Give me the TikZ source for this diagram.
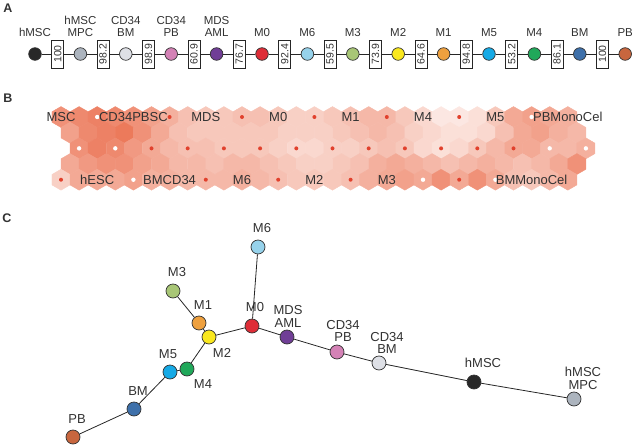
\documentclass[tikz,border=0pt]{standalone}
\usepackage{fontspec}
\setmainfont{Liberation Sans}
\usetikzlibrary{positioning}

\definecolor{chmsc}{RGB}{40,40,40}
\definecolor{cmpc}{RGB}{172,180,190}
\definecolor{ccdbm}{RGB}{222,224,230}
\definecolor{ccdpb}{RGB}{212,130,182}
\definecolor{cmds}{RGB}{112,62,150}
\definecolor{cmzero}{RGB}{222,45,55}
\definecolor{cmsix}{RGB}{150,210,235}
\definecolor{cmthree}{RGB}{168,198,118}
\definecolor{cmtwo}{RGB}{250,232,30}
\definecolor{cmone}{RGB}{238,160,62}
\definecolor{cmfive}{RGB}{22,170,230}
\definecolor{cmfour}{RGB}{32,168,90}
\definecolor{cbm}{RGB}{62,112,170}
\definecolor{cpb}{RGB}{200,102,62}
\definecolor{hexred}{RGB}{233,98,62}
\definecolor{dotred}{RGB}{225,65,45}
\definecolor{txt}{RGB}{50,50,50}

\tikzset{
  panel/.style={font=\fontsize{12.5}{13}\selectfont\bfseries, text=txt, inner sep=0pt},
  sample/.style={circle, draw=black!80, line width=.7pt, minimum size=12.6pt, inner sep=0pt},
  csample/.style={circle, draw=black!80, line width=.7pt, minimum size=14pt, inner sep=0pt},
  simbox/.style={draw=black!85, fill=white, line width=.7pt, rotate=90, minimum width=28pt, minimum height=12pt, inner sep=0pt, font=\fontsize{10.5}{11}\selectfont, text=txt},
  alabel/.style={align=center, inner sep=0pt, font=\fontsize{11.5}{12}\selectfont, text=txt},
  blabel/.style={inner sep=0pt, font=\fontsize{13}{13}\selectfont, text=txt},
  clabel/.style={align=center, inner sep=0pt, font=\fontsize{13}{12.5}\selectfont, text=txt},
  link/.style={draw=black!85, line width=.8pt}
}

\begin{document}
\begin{tikzpicture}[x=1pt,y=-1pt]
\useasboundingbox (0,0) rectangle (633,445);

%panel letters
\node[panel] (lab-a) at (8,8.5) {A};
\node[panel] (lab-b) at (8,98) {B};
\node[panel] (lab-c) at (7,218) {C};

%A: ordered chain of samples
\foreach \i/\col/\lab in {0/chmsc/hMSC, 1/cmpc/{hMSC\\MPC}, 2/ccdbm/{CD34\\BM}, 3/ccdpb/{CD34\\PB}, 4/cmds/{MDS\\AML}, 5/cmzero/M0, 6/cmsix/M6, 7/cmthree/M3, 8/cmtwo/M2, 9/cmone/M1, 10/cmfive/M5, 11/cmfour/M4, 12/cbm/BM, 13/cpb/PB}{
  \node[sample, fill=\col] (a-c\i) at ({35+45.4*\i},54) {};
  \node[alabel, above=11pt of a-c\i] (a-l\i) {\lab};
}
%similarity boxes
\foreach \i/\v in {0/100, 1/98.2, 2/98.9, 3/60.9, 4/76.7, 5/92.4, 6/59.5, 7/73.9, 8/64.6, 9/94.8, 10/53.2, 11/86.1, 12/100}
  \node[simbox] (a-b\i) at ({57.7+45.4*\i},54) {\v};
\foreach \i [evaluate=\i as \j using int(\i+1)] in {0,...,12}
  \draw[link] (a-c\i) -- (a-b\i) -- (a-c\j);

%B: self-organising map
\foreach \y/\xo/\ks/\vals in {
  117/61/0/{70,75,80,75,70,60,50,40,35,35,40,40,35,30,30,35,40,45,45,35,25,15,15,20,35,55,60,55,50},
  132.68/70.05/0/{60,75,80,85,70,55,40,35,35,35,35,35,30,30,30,35,40,45,40,30,25,20,20,25,40,55,60,50,45},
  148.36/61/1/{70,80,75,65,55,45,40,40,35,35,35,30,25,25,30,30,35,40,35,25,20,25,35,45,55,55,45,45,50},
  164.04/70.05/0/{55,65,70,70,60,55,45,45,40,45,45,40,35,30,30,35,40,50,55,50,45,40,45,50,45,40,45,55,70},
  179.72/61/0/{30,55,55,55,60,50,50,45,45,45,50,45,40,35,35,35,40,50,55,60,55,70,55,70,55,40,35,45,55}}
  \foreach \p [count=\k from 0] in \vals {
    \pgfmathsetmacro\hx{\xo+18.1*(\k+\ks)}
    \filldraw[fill=hexred!\p!white, draw=hexred!\p!white, line width=.4pt] (\hx,\y) +(90:10.45pt) -- +(150:10.45pt) -- +(210:10.45pt) -- +(270:10.45pt) -- +(330:10.45pt) -- +(30:10.45pt) -- cycle;
  }

%map units holding samples
\foreach \k in {6,10,14,18,22} \fill[dotred] ({61+18.1*\k},117) circle (2pt);
\foreach \k in {2,26} \fill[white] ({61+18.1*\k},117) circle (2.2pt);
\foreach \k in {5,7,9,...,25} \fill[dotred] ({61+18.1*\k},148.36) circle (2pt);
\foreach \k in {1,3,27,29} \fill[white] ({61+18.1*\k},148.36) circle (2.2pt);
\foreach \k in {0,8,12,16,22} \fill[dotred] ({61+18.1*\k},179.72) circle (2pt);
\foreach \k in {4,20,24} \fill[white] ({61+18.1*\k},179.72) circle (2.2pt);

\foreach \nm/\k/\lab in {msc/0/MSC, cdpbsc/4/CD34PBSC, mds/8/MDS, mzero/12/M0, mone/16/M1, mfour/20/M4, mfive/24/M5, pbmono/28/PBMonoCel}
  \node[blabel] (b-\nm) at ({61+18.1*\k},117) {\lab};
\foreach \nm/\k/\lab in {hesc/2/hESC, bmcd/6/BMCD34, msix/10/M6, mtwo/14/M2, mthree/18/M3, bmmono/26/BMMonoCel}
  \node[blabel] (b-\nm) at ({61+18.1*\k},179.72) {\lab};

%C: tree
\node[csample, fill=cmsix] (c-msix) at (258,247) {};
\node[csample, fill=cmthree] (c-mthree) at (173,291) {};
\node[csample, fill=cmone] (c-mone) at (199,323) {};
\node[csample, fill=cmzero] (c-mzero) at (252,326) {};
\node[csample, fill=cmtwo] (c-mtwo) at (209,337) {};
\node[csample, fill=cmds] (c-mds) at (287,337) {};
\node[csample, fill=cmfive] (c-mfive) at (170,372) {};
\node[csample, fill=cmfour] (c-mfour) at (187,369) {};
\node[csample, fill=cbm] (c-bm) at (134,409) {};
\node[csample, fill=cpb] (c-pb) at (73,437) {};
\node[csample, fill=ccdpb] (c-cdpb) at (337,352) {};
\node[csample, fill=ccdbm] (c-cdbm) at (379,363) {};
\node[csample, fill=chmsc] (c-hmsc) at (474,382) {};
\node[csample, fill=cmpc] (c-mpc) at (574,399) {};

\begin{scope}[on background layer/.style={}]
\draw[link] (c-msix) -- (c-mzero);
\draw[link] (c-mthree) -- (c-mone);
\draw[link] (c-mone) -- (c-mtwo);
\draw[link] (c-mtwo) -- (c-mzero);
\draw[link] (c-mzero) -- (c-mds);
\draw[link] (c-mds) -- (c-cdpb);
\draw[link] (c-cdpb) -- (c-cdbm);
\draw[link] (c-cdbm) -- (c-hmsc);
\draw[link] (c-hmsc) -- (c-mpc);
\draw[link] (c-mtwo) -- (c-mfour);
\draw[link] (c-mfour) -- (c-mfive);
\draw[link] (c-mfive) -- (c-bm);
\draw[link] (c-bm) -- (c-pb);
\end{scope}

\node[clabel] (c-msix-lab) at (262,228) {M6};
\node[clabel] (c-mthree-lab) at (177,272) {M3};
\node[clabel] (c-mone-lab) at (203,305) {M1};
\node[clabel] (c-mzero-lab) at (255,307) {M0};
\node[clabel] (c-mds-lab) at (288,316.5) {MDS\\AML};
\node[clabel] (c-mtwo-lab) at (222,353) {M2};
\node[clabel] (c-mfive-lab) at (168,354) {M5};
\node[clabel] (c-mfour-lab) at (203,384) {M4};
\node[clabel] (c-bm-lab) at (138,391) {BM};
\node[clabel] (c-pb-lab) at (77,419) {PB};
\node[clabel] (c-cdpb-lab) at (343,331) {CD34\\PB};
\node[clabel] (c-cdbm-lab) at (387,343) {CD34\\BM};
\node[clabel] (c-hmsc-lab) at (483,363) {hMSC};
\node[clabel] (c-mpc-lab) at (583,378.5) {hMSC\\MPC};
\end{tikzpicture}
\end{document}
